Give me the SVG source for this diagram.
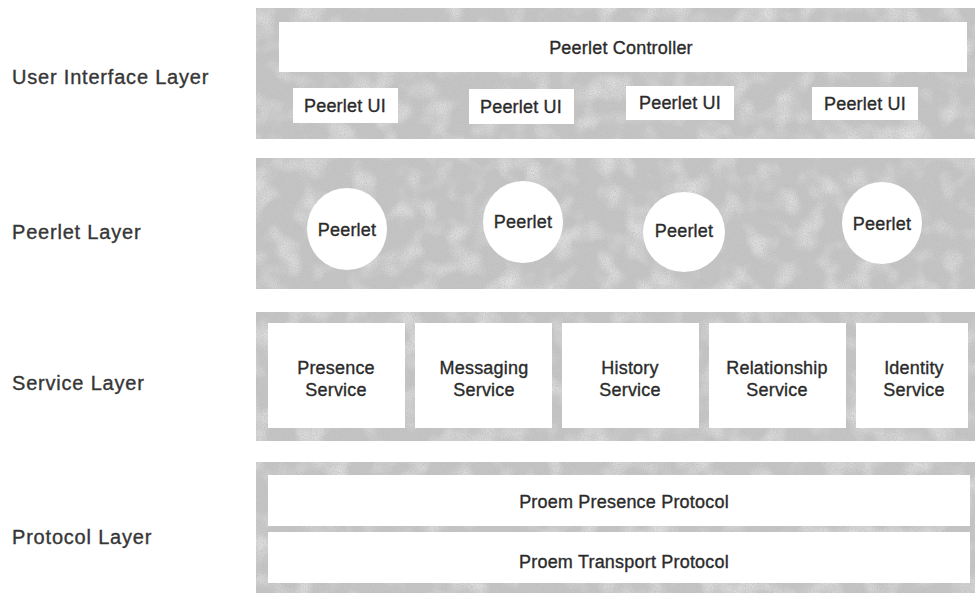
<svg xmlns="http://www.w3.org/2000/svg" width="976" height="596" viewBox="0 0 976 596">
<defs>
<filter id="grain" x="0" y="0" width="100%" height="100%">
<feTurbulence type="fractalNoise" baseFrequency="0.9" numOctaves="2" seed="4" result="n"/>
<feColorMatrix in="n" type="matrix" values="0 0 0 0 0.5 0 0 0 0 0.5 0 0 0 0 0.5 1.8 0 0 0 -0.72" result="g"/>
<feTurbulence type="fractalNoise" baseFrequency="0.04" numOctaves="2" seed="9" result="b"/>
<feColorMatrix in="b" type="matrix" values="0 0 0 0 1 0 0 0 0 1 0 0 0 0 1 1.1 0 0 0 -0.5" result="w"/>
<feMerge result="m"><feMergeNode in="SourceGraphic"/><feMergeNode in="w"/><feMergeNode in="g"/></feMerge>
<feComposite in="m" in2="SourceGraphic" operator="in"/>
</filter>
</defs>
<style>
.band{fill:#c4c4c4;filter:url(#grain)}
.box{fill:#ffffff}
.t{font-family:"Liberation Sans",Arial,Helvetica,sans-serif;font-size:18px;fill:#2b2b2b;stroke:#2b2b2b;stroke-width:0.35px;text-anchor:middle;letter-spacing:0.2px}
.lbl{font-family:"Liberation Sans",Arial,Helvetica,sans-serif;font-size:20px;fill:#363636;stroke:#363636;stroke-width:0.35px;letter-spacing:0.8px}
</style>
<rect width="976" height="596" fill="#ffffff"/>

<g id="labels">
<text class="lbl" x="12" y="84">User Interface Layer</text>
<text class="lbl" x="12" y="239">Peerlet Layer</text>
<text class="lbl" x="12" y="390">Service Layer</text>
<text class="lbl" x="12" y="544">Protocol Layer</text>
</g>

<g id="ui-layer">
<rect class="band" x="256" y="8" width="719" height="131"/>
</g>
<g id="peerlet-controller">
<rect class="box" x="279" y="22" width="688" height="50"/>
<text class="t" x="621" y="54">Peerlet Controller</text>
</g>
<g id="peerlet-ui-1">
<rect class="box" x="293" y="88" width="105" height="35"/>
<text class="t" x="345" y="112">Peerlet UI</text>
</g>
<g id="peerlet-ui-2">
<rect class="box" x="469" y="89" width="105" height="35"/>
<text class="t" x="521" y="113">Peerlet UI</text>
</g>
<g id="peerlet-ui-3">
<rect class="box" x="626" y="86" width="108" height="34"/>
<text class="t" x="680" y="109">Peerlet UI</text>
</g>
<g id="peerlet-ui-4">
<rect class="box" x="812" y="87" width="106" height="33"/>
<text class="t" x="865" y="110">Peerlet UI</text>
</g>

<g id="peerlet-layer">
<rect class="band" x="256" y="158" width="719" height="131"/>
</g>
<g id="peerlet-1">
<ellipse class="box" cx="347" cy="229" rx="40" ry="41"/>
<text class="t" x="347" y="236">Peerlet</text>
</g>
<g id="peerlet-2">
<ellipse class="box" cx="523" cy="222" rx="40" ry="41"/>
<text class="t" x="523" y="228">Peerlet</text>
</g>
<g id="peerlet-3">
<ellipse class="box" cx="684" cy="232" rx="41" ry="40"/>
<text class="t" x="684" y="237">Peerlet</text>
</g>
<g id="peerlet-4">
<ellipse class="box" cx="882" cy="223" rx="40" ry="41"/>
<text class="t" x="882" y="230">Peerlet</text>
</g>

<g id="service-layer">
<rect class="band" x="256" y="312" width="719" height="129"/>
</g>
<g id="presence-service">
<rect class="box" x="268" y="323" width="137" height="105"/>
<text class="t" x="336" y="374">Presence</text>
<text class="t" x="336" y="396">Service</text>
</g>
<g id="messaging-service">
<rect class="box" x="415" y="323" width="137" height="105"/>
<text class="t" x="484" y="374">Messaging</text>
<text class="t" x="484" y="396">Service</text>
</g>
<g id="history-service">
<rect class="box" x="562" y="323" width="137" height="105"/>
<text class="t" x="630" y="374">History</text>
<text class="t" x="630" y="396">Service</text>
</g>
<g id="relationship-service">
<rect class="box" x="709" y="323" width="137" height="105"/>
<text class="t" x="777" y="374">Relationship</text>
<text class="t" x="777" y="396">Service</text>
</g>
<g id="identity-service">
<rect class="box" x="856" y="323" width="112" height="105"/>
<text class="t" x="914" y="374">Identity</text>
<text class="t" x="914" y="396">Service</text>
</g>

<g id="protocol-layer">
<rect class="band" x="256" y="462" width="719" height="131"/>
</g>
<g id="presence-protocol">
<rect class="box" x="268" y="475" width="702" height="51"/>
<text class="t" x="624" y="508">Proem Presence Protocol</text>
</g>
<g id="transport-protocol">
<rect class="box" x="268" y="532" width="702" height="51"/>
<text class="t" x="624" y="568">Proem Transport Protocol</text>
</g>

<g id="connectors"/>
</svg>
